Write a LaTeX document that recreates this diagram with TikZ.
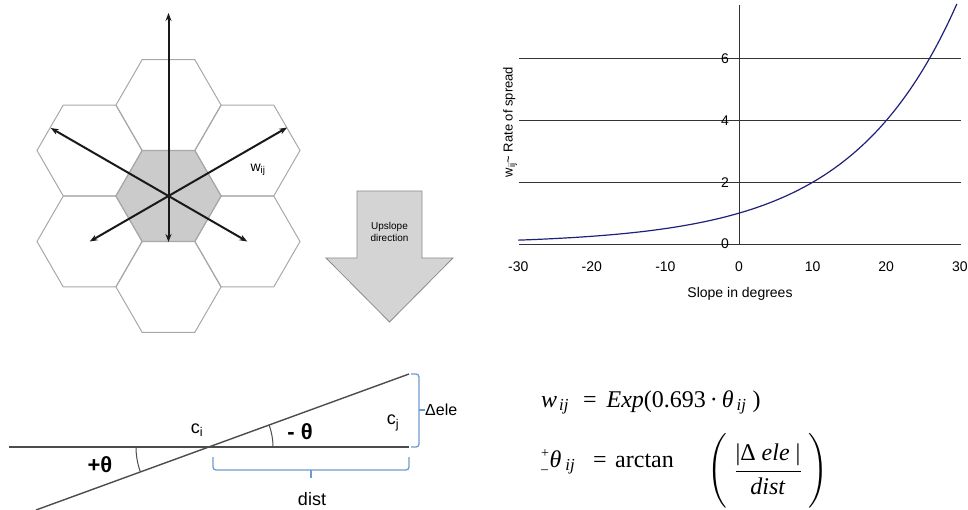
\documentclass[tikz,border=0pt]{standalone}
\usepackage{amsmath}
\usepackage{fontspec}
\setmainfont{Liberation Serif}
\setsansfont{Liberation Sans}
\usepackage{tikz}
\usetikzlibrary{arrows.meta,calc}
\usepackage{xcolor}
\definecolor{hexline}{HTML}{A8A8A8}
\definecolor{hexfill}{HTML}{CBCBCB}
\definecolor{bracecol}{HTML}{6E9AD3}
\definecolor{curvecol}{HTML}{20207A}
\newcommand{\fsz}[1]{\fontsize{#1}{#1}\selectfont}

\begin{document}
\begin{tikzpicture}[x=1pt,y=-1pt,>={Stealth[length=8pt,width=6pt]},
  hexcell/.style={draw=hexline,line width=1pt},
  flow/.style={<->,line width=2pt,black!90},
  gridln/.style={draw=black!80,line width=0.9pt},
  slopeln/.style={draw=black!70,line width=1.4pt},
  bracket/.style={draw=bracecol,line width=1.3pt,rounded corners=3pt},
  lbl/.style={font=\sffamily\fsz{#1},inner sep=0pt},
  eq/.style={font=\fsz{24},inner sep=0pt,anchor=base west}]
\useasboundingbox (0,0) rectangle (968,510);
\coordinate (ctr) at (168.5,196);
\fill[hexfill] (ctr) +(0:52.5) -- +(60:52.5) -- +(120:52.5) -- +(180:52.5) -- +(240:52.5) -- +(300:52.5) -- cycle;
\foreach \dx/\dy in {0/0,0/-91,0/91,79/-45.5,79/45.5,-79/-45.5,-79/45.5}
  \draw[hexcell] ($(ctr)+(\dx,\dy)$) +(0:52.5) -- +(60:52.5) -- +(120:52.5) -- +(180:52.5) -- +(240:52.5) -- +(300:52.5) -- cycle;
\coordinate (nN) at ($(ctr)+(0,-183)$);
\coordinate (nS) at ($(ctr)+(0,46)$);
\coordinate (nNW) at ($(ctr)+(210:136)$);
\coordinate (nSE) at ($(ctr)+(30:91)$);
\coordinate (nNE) at ($(ctr)+(330:137)$);
\coordinate (nSW) at ($(ctr)+(150:91)$);
\draw[flow] (nS) -- (nN);
\draw[flow] (nSE) -- (nNW);
\draw[flow] (nSW) -- (nNE);
\node[lbl=14] (wlab) at (258,170) {w\textsubscript{ij}};

\filldraw[fill=black!17,draw=black!45,line width=0.8pt] (357,191) -- (422,191) -- (422,258) -- (453,258) -- (389.5,322) -- (326,258) -- (357,258) -- cycle;
\node[font=\sffamily\fontsize{10}{12}\selectfont,align=center,inner sep=0pt] (upsl) at (389.5,232) {Upslope\\direction};

\foreach \v in {0,2,4,6}{
  \draw[gridln] (519,{244-30.85*\v}) -- (961,{244-30.85*\v});
  \node[lbl=14,anchor=east] at (729,{244-30.85*\v}) {\v};
}
\draw[gridln] (739,5) -- (739,244);
\foreach \t in {-30,-20,...,30}
  \node[lbl=14] at ({739+7.36*\t},267) {\t};
\draw[curvecol,line width=1.2pt] plot[domain=-30:29.6,samples=80,smooth] ({739+7.36*\x},{244-30.85*exp(0.0693147*\x)});
\node[lbl=13,rotate=90] (ylab) at (510,122) {w\textsubscript{ij}\textasciitilde{} Rate of spread};
\node[lbl=14] (xlab) at (740,294) {Slope in degrees};

\coordinate (ci) at (209,447);
\coordinate (hl) at (9,447);
\coordinate (hr) at (409,447);
\coordinate (sl) at (36,510);
\coordinate (sr) at (409,374);
\draw[slopeln] (hl) -- (hr);
\draw[slopeln] (sl) -- (sr);
\draw[slopeln,line width=1pt] (ci) ++(160:73) arc[start angle=160,end angle=180,radius=73];
\draw[slopeln,line width=1pt] (ci) ++(-20:64) arc[start angle=-20,end angle=0,radius=64];
\node[lbl=22,font=\sffamily\bfseries\fsz{22}] (pth) at (100,465) {+θ};
\node[lbl=22,font=\sffamily\bfseries\fsz{22}] (mth) at (300,432) {- θ};
\node[lbl=18] (cil) at (197,430) {c\textsubscript{i}};
\node[lbl=18] (cjl) at (393,423) {c\textsubscript{j}};
\draw[bracket] (213,457) -- (213,470) -- (409,470) -- (409,457);
\draw[bracket] (311,470) -- (311,478);
\node[lbl=18] (dist) at (312,499) {dist};
\draw[bracket] (411,374) -- (419,374) -- (419,447) -- (411,447);
\draw[bracket] (419,410) -- (425,410);
\node[lbl=16,anchor=west] (dele) at (425,410) {Δele};

\node[eq] (eqw) at (541,407) {\textit{w}\hspace{2pt}\textsubscript{\textit{ij}}\hspace{14pt}=\hspace{10pt}\textit{Exp}(0.693\,·\,\textit{θ}\hspace{3pt}\textsubscript{\textit{ij}}\hspace{6pt})};
\node[eq] (eqt) at (541,467) {${}^{\text{\fsz{14}+}}_{\text{\fsz{14}–}}$\textit{θ}\,\textsubscript{\textit{ij}}};
\node[eq] (eqeq) at (593,467) {=};
\node[eq] (atan) at (615,467) {arctan};
\node[font=\fsz{24},inner sep=0pt] (frac) at (768,471) {$\left(\rule[-30pt]{0pt}{64pt}\;\dfrac{\text{|Δ \textit{ele} |}}{\text{\textit{dist}}}\;\right)$};
\end{tikzpicture}
\end{document}
